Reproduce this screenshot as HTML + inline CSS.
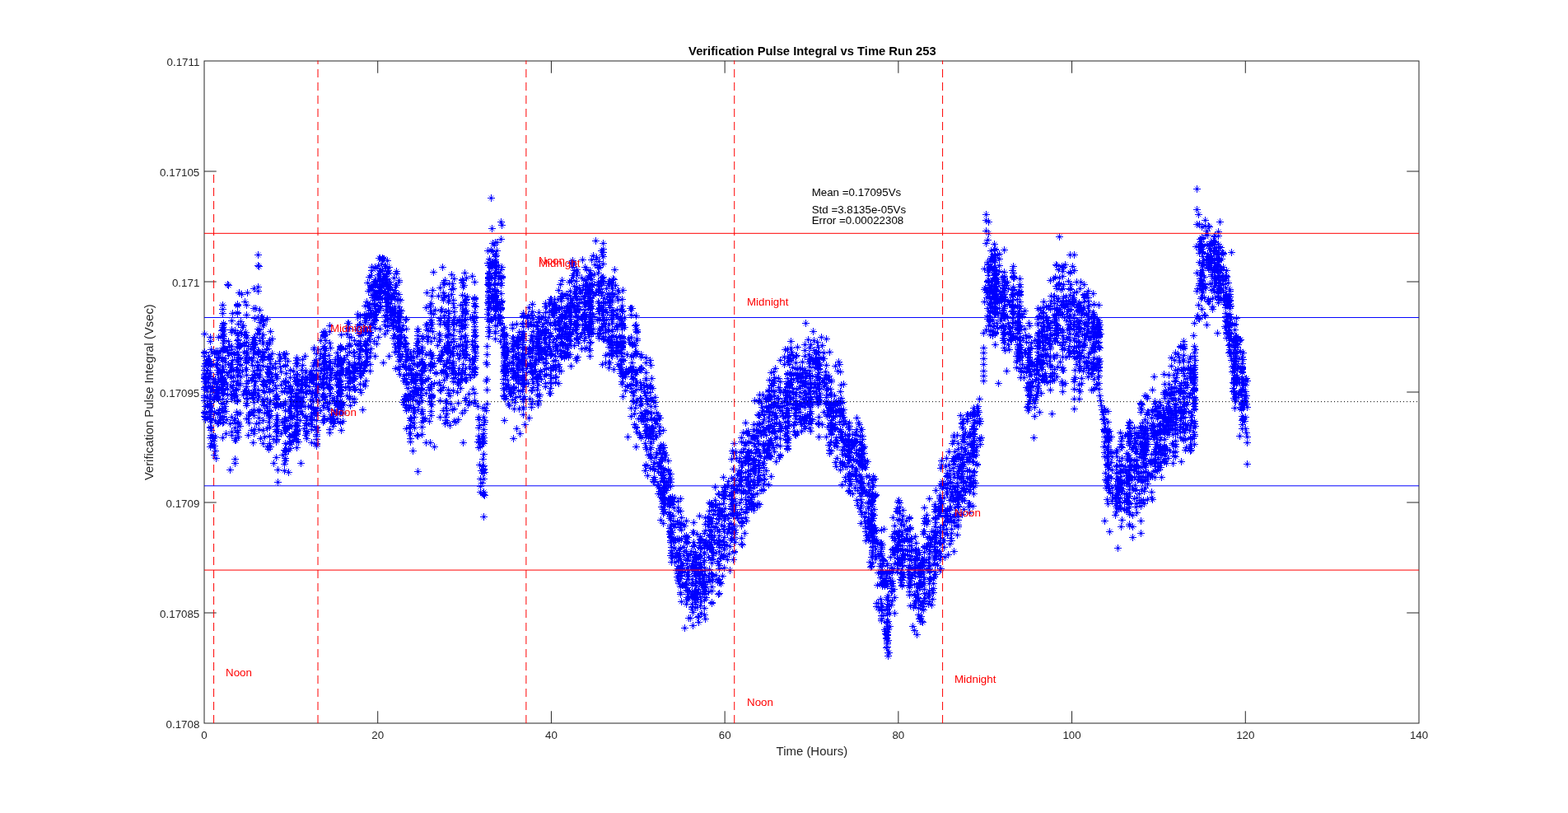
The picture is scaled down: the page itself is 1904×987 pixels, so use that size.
<!DOCTYPE html>
<html lang="en"><head><meta charset="utf-8"><title>Verification Pulse Integral vs Time Run 253</title>
<style>html,body{margin:0;padding:0;background:#fff;overflow:hidden}svg{display:block}text{font-family:"Liberation Sans",Arial,Helvetica,sans-serif}</style></head><body>
<svg width="1904" height="987" viewBox="0 0 1904 987" role="img" aria-label="Verification Pulse Integral vs Time Run 253">
<rect x="0" y="0" width="1904" height="987" fill="#fff"/>
<g fill="none" stroke="#262626" stroke-width="1">
<rect x="248.0" y="74.0" width="1475.0" height="804.0"/>
<path d="M458.71 878.0v-14.75M458.71 74.0v14.75M669.43 878.0v-14.75M669.43 74.0v14.75M880.14 878.0v-14.75M880.14 74.0v14.75M1090.86 878.0v-14.75M1090.86 74.0v14.75M1301.57 878.0v-14.75M1301.57 74.0v14.75M1512.29 878.0v-14.75M1512.29 74.0v14.75M248.0 208.0h14.75M1723.0 208.0h-14.75M248.0 342.0h14.75M1723.0 342.0h-14.75M248.0 476.0h14.75M1723.0 476.0h-14.75M248.0 610.0h14.75M1723.0 610.0h-14.75M248.0 744.0h14.75M1723.0 744.0h-14.75"/>
</g>
<marker id="m" markerUnits="userSpaceOnUse" markerWidth="12" markerHeight="12" viewBox="-6 -6 12 12" refX="0" refY="0" overflow="visible"><path d="M-4 .5H5M.5-4V5" stroke="#00f" stroke-width="1" fill="none" shape-rendering="crispEdges"/><path d="M-2.3-2.3L3.3 3.3M-2.3 3.3L3.3-2.3" stroke="#00f" stroke-width=".85" fill="none"/></marker>
<path d="M259.59 878.0V212" stroke="#f00" stroke-width="1" fill="none" stroke-dasharray="10 6"/>
<polyline points="248,405 248,427 248,428 248,432 248,444 248,444 248,449 248,454 248,456 248,458 248,459 248,463 248,470 248,472 248,480 248,482 248,486 248,486 248,500 248,501 248,501 248,505 249,441 249,463 249,493 249,506 249,509 250,437 250,441 250,453 250,458 250,469 251,440 251,450 251,474 251,481 251,483 251,492 251,506 252,436 252,449 252,459 252,492 253,432 253,464 253,468 254,438 254,456 254,457 254,490 254,494 254,508 255,409 255,414 255,438 255,441 255,442 255,443 255,444 255,452 255,469 255,470 255,479 255,481 255,484 255,489 255,492 255,495 255,499 255,500 255,503 255,505 255,507 255,509 255,518 255,519 255,531 255,542 256,424 256,441 256,472 256,495 256,512 256,522 256,528 256,538 257,427 257,540 258,460 258,464 258,474 258,528 259,485 259,532 259,535 259,541 260,429 260,464 260,481 260,484 260,500 260,541 260,552 261,460 261,510 261,530 261,547 262,426 262,443 262,466 262,477 262,556 263,443 263,477 263,481 263,482 263,483 264,426 264,427 264,428 264,429 264,434 264,437 264,442 264,442 264,449 264,454 264,464 264,469 264,470 264,470 264,473 264,480 264,501 264,502 264,514 265,409 265,433 265,449 265,460 265,472 265,476 265,485 265,500 265,513 266,497 266,510 267,451 267,452 267,506 268,434 268,456 269,401 269,450 269,476 270,370 270,370 270,375 270,380 270,395 270,395 270,397 270,400 270,407 270,408 270,410 270,422 270,425 270,426 270,435 270,437 270,444 270,446 270,448 270,448 270,451 270,458 270,459 270,460 270,461 270,462 270,462 270,463 270,464 270,466 270,467 270,469 270,471 270,473 270,474 270,478 270,484 270,489 270,490 270,495 270,498 270,500 270,505 270,506 270,509 270,513 270,531 271,392 271,393 271,400 271,405 271,408 271,416 271,424 271,460 271,477 271,512 272,400 272,413 272,423 272,464 273,424 273,435 273,439 273,493 274,499 274,526 275,424 275,452 275,466 275,487 275,509 276,345 276,425 276,455 276,472 276,479 277,346 277,414 277,431 277,442 278,420 279,451 279,514 279,570 280,442 280,446 280,468 280,479 281,389 281,400 281,403 281,420 281,424 281,428 281,429 281,442 281,446 281,449 281,450 281,457 281,458 281,478 281,484 281,506 281,524 281,528 282,380 282,437 282,470 283,457 283,463 283,474 284,430 284,480 284,510 285,401 285,481 285,486 285,508 285,513 285,519 285,534 285,557 285,562 286,449 286,479 286,532 286,534 287,448 287,467 287,472 287,473 287,486 287,500 288,369 288,370 288,371 288,379 288,380 288,404 288,405 288,413 288,422 288,427 288,427 288,434 288,434 288,436 288,439 288,439 288,448 288,449 288,455 288,457 288,462 288,485 288,487 288,503 288,522 288,525 288,525 289,393 289,407 289,412 289,417 289,431 289,436 289,465 289,512 289,514 289,530 290,355 290,421 290,434 290,442 290,452 291,418 291,420 291,465 291,467 291,501 291,517 292,390 292,403 292,435 292,443 292,457 293,357 293,405 294,397 294,450 295,395 295,479 296,406 296,416 296,419 296,427 296,475 297,366 298,403 298,435 298,448 298,473 299,370 299,382 299,407 299,410 299,410 299,415 299,415 299,427 299,429 299,433 299,437 299,439 299,440 299,448 299,455 299,465 299,469 299,474 299,479 299,483 299,489 299,492 299,508 300,355 300,429 300,478 300,484 301,420 301,462 301,508 301,528 302,435 302,476 302,503 302,513 303,501 304,423 305,437 305,461 305,478 305,500 305,522 306,417 306,443 306,458 306,480 307,412 307,418 307,423 307,434 307,459 307,477 307,482 307,537 308,350 308,374 308,374 308,409 308,415 308,418 308,427 308,429 308,450 308,455 308,462 308,473 308,477 308,483 308,488 308,497 308,500 308,504 308,526 309,386 309,410 309,421 309,454 309,468 309,521 310,374 310,417 310,463 310,476 311,514 312,405 312,439 312,444 312,454 313,309 313,322 313,348 313,353 313,385 313,399 313,426 313,430 313,446 313,473 313,479 313,485 314,323 314,404 314,426 314,428 314,443 314,449 314,454 314,458 314,481 314,497 314,498 314,500 314,507 314,513 314,521 315,376 315,391 315,400 315,413 315,456 316,449 316,532 317,385 317,388 318,385 318,385 318,410 318,427 318,433 318,436 318,485 319,395 319,406 319,415 319,417 319,432 319,433 319,437 319,444 319,462 319,466 319,474 319,487 319,487 319,491 319,510 319,522 319,538 320,388 320,389 320,393 320,428 320,463 320,466 320,467 320,485 321,476 321,492 321,501 321,530 323,424 323,469 324,387 324,417 324,445 324,484 324,493 324,495 324,500 324,520 324,542 325,423 325,434 325,451 325,457 325,461 326,432 326,448 326,452 326,453 326,502 326,512 326,545 327,413 327,415 327,417 327,433 327,436 327,436 327,448 327,452 327,453 327,454 327,461 327,464 327,472 327,475 327,488 327,488 327,490 327,498 327,499 327,504 327,505 327,507 327,507 327,518 327,529 327,529 327,538 328,402 328,435 328,441 328,441 328,462 328,486 328,542 330,411 330,429 330,457 330,461 331,445 331,464 331,474 332,533 332,562 334,441 334,447 334,454 334,468 334,494 335,457 335,471 335,480 335,481 335,483 335,485 335,489 335,490 335,491 335,509 335,514 335,517 335,521 335,524 335,534 335,536 335,555 336,457 336,459 336,480 336,484 336,504 336,514 336,516 336,523 336,529 336,533 337,509 337,521 337,570 337,585 338,493 339,430 339,438 340,434 340,445 340,491 341,451 341,467 341,491 341,492 341,526 342,475 342,512 343,492 343,552 344,430 344,430 344,463 344,491 345,430 345,474 345,509 345,516 345,522 345,546 345,563 345,571 346,435 346,443 346,444 346,462 346,471 346,487 346,489 346,491 346,498 346,507 346,511 346,511 346,518 346,518 346,519 346,522 346,524 346,538 346,547 346,551 346,556 346,559 347,429 347,453 347,463 347,464 347,522 347,544 347,548 348,476 348,510 349,438 349,520 350,469 350,498 350,546 350,573 351,472 351,496 351,499 351,517 351,529 351,537 352,449 352,458 352,468 352,475 352,475 352,485 352,493 352,506 352,506 352,507 352,516 352,530 352,535 352,539 352,539 352,544 353,475 353,482 353,491 353,501 354,475 354,481 354,487 354,491 354,504 354,505 354,508 354,517 354,527 354,528 354,536 355,473 356,450 356,492 356,534 357,458 357,505 357,531 358,463 358,517 358,525 359,441 359,480 359,482 359,491 359,493 359,496 359,513 359,524 359,529 360,434 360,437 360,444 360,455 360,455 360,457 360,461 360,462 360,462 360,466 360,466 360,473 360,473 360,477 360,478 360,481 360,485 360,486 360,488 360,489 360,494 360,496 360,506 360,516 360,517 360,521 360,523 360,523 360,524 360,526 360,527 360,533 360,536 360,543 361,441 361,454 361,461 361,466 361,485 361,485 361,494 361,500 361,502 361,509 361,517 361,522 362,463 362,465 362,477 362,536 364,474 364,482 364,483 364,494 364,510 365,467 365,487 365,492 365,562 366,449 366,463 366,472 366,475 366,487 366,488 366,499 367,436 367,443 367,457 367,460 367,466 367,488 367,503 368,476 368,482 369,520 370,432 370,468 370,493 371,450 371,452 371,457 371,460 371,461 371,464 371,467 371,475 371,505 371,506 371,513 371,516 371,528 372,477 372,510 372,514 372,523 372,524 372,526 372,532 373,458 374,493 375,469 375,474 376,452 377,455 377,458 377,461 377,485 377,493 377,506 377,508 377,510 378,450 378,454 378,460 378,461 378,461 378,461 378,478 378,494 378,502 378,515 378,517 378,521 378,537 379,462 379,475 379,485 379,509 380,444 380,456 380,464 380,487 380,496 381,422 381,424 381,440 381,456 381,460 381,500 382,476 382,501 383,437 383,456 383,458 383,477 383,480 383,480 383,498 384,429 384,441 384,444 384,449 384,456 384,456 384,457 384,458 384,466 384,467 384,469 384,473 384,478 384,480 384,480 384,485 384,501 384,501 384,504 384,510 384,518 384,519 384,522 384,527 384,529 384,533 384,538 384,539 384,541 385,473 385,495 385,522 386,424 386,467 386,467 387,469 387,486 387,486 388,435 388,442 388,457 389,413 389,413 389,429 389,450 389,460 389,498 390,449 391,460 391,466 391,480 392,403 392,432 392,441 392,457 392,463 392,470 392,480 392,492 392,512 393,406 393,407 393,408 393,420 393,423 393,429 393,432 393,432 393,435 393,442 393,448 393,457 393,464 393,465 393,471 393,478 393,481 393,482 393,494 393,505 393,510 394,402 394,406 394,422 394,423 394,439 394,447 394,448 394,453 394,485 394,509 395,406 395,413 395,425 395,438 396,444 396,447 396,459 397,452 397,467 397,488 397,489 398,495 399,431 399,444 399,466 399,469 399,497 400,395 400,402 400,416 400,438 400,446 400,455 400,461 400,470 400,471 400,480 400,489 400,508 400,521 400,525 401,422 401,440 401,447 401,452 401,472 401,477 401,507 401,511 402,458 402,503 402,508 403,449 403,486 403,505 403,509 404,513 404,517 405,483 405,502 405,514 406,441 406,455 406,487 406,498 406,511 407,436 407,489 408,456 408,467 409,428 409,444 409,451 409,454 409,459 409,460 409,481 409,481 409,490 409,492 409,499 409,502 409,508 410,433 410,467 410,475 410,486 410,494 411,435 411,441 411,442 411,444 411,463 411,490 412,454 412,463 412,476 412,477 413,420 413,421 413,423 413,424 413,434 413,437 413,438 413,439 413,441 413,442 413,443 413,452 413,453 413,454 413,455 413,466 413,469 413,469 413,470 413,470 413,473 413,473 413,478 413,478 413,481 413,490 413,494 413,495 413,495 413,495 413,495 413,501 413,512 413,513 414,406 414,422 414,439 414,440 414,449 414,451 414,462 414,474 414,489 414,495 414,497 414,522 415,447 415,488 416,449 416,501 416,511 417,436 417,491 418,436 419,423 419,455 419,470 420,449 421,405 421,431 421,451 421,480 422,392 422,398 422,449 423,392 423,399 423,440 423,446 423,458 423,462 423,465 423,469 424,409 424,417 424,419 424,420 424,427 424,427 424,442 424,452 424,473 424,481 424,484 425,457 425,459 425,462 425,492 426,409 427,444 428,460 428,462 428,484 429,427 429,450 429,453 429,453 429,460 429,470 430,413 430,428 430,432 430,440 430,442 430,446 430,446 430,450 430,451 430,457 430,459 430,460 430,470 430,472 430,472 430,484 430,488 431,443 431,445 431,472 432,447 432,449 433,400 433,418 434,381 434,385 434,396 434,450 435,404 435,417 435,419 435,435 436,394 436,430 436,441 436,446 437,383 437,393 437,407 437,414 437,423 437,424 437,426 437,433 437,447 437,456 437,466 437,466 437,473 438,420 438,442 438,442 438,442 438,453 438,456 438,476 439,406 439,440 440,450 440,497 441,399 441,451 441,466 442,382 442,398 442,444 442,449 443,371 443,389 443,391 443,402 443,403 443,414 443,417 443,425 443,440 443,443 443,444 443,444 443,468 444,381 444,383 444,389 444,401 444,402 444,419 444,427 444,439 444,462 445,366 445,386 445,418 445,424 445,432 445,438 446,343 446,370 446,413 446,427 446,434 447,353 447,372 448,336 448,370 448,384 448,397 448,411 449,351 449,369 449,376 449,380 449,381 449,384 449,403 449,404 449,407 449,414 449,428 449,432 449,442 449,450 450,334 450,346 450,347 450,349 450,377 450,393 450,398 450,423 451,324 451,328 451,348 451,358 451,384 452,349 452,361 452,394 453,352 453,393 454,345 454,357 454,364 454,368 454,389 454,414 455,324 455,325 455,339 455,341 455,342 455,344 455,353 455,355 455,359 455,359 455,369 455,370 455,370 455,372 455,374 455,379 455,381 455,382 455,385 455,388 455,388 455,389 455,398 455,432 456,342 456,345 456,359 456,360 456,377 456,379 456,385 457,360 457,378 457,417 458,341 459,322 459,333 459,363 459,376 459,376 459,409 460,313 460,337 460,339 460,348 460,348 460,354 460,359 460,360 461,313 461,326 461,328 461,331 461,335 461,339 461,340 461,344 461,347 461,347 461,347 461,349 461,352 461,353 461,359 461,362 461,367 461,371 461,374 461,376 461,399 462,329 462,338 462,349 462,349 462,356 462,372 463,320 463,348 464,313 464,314 464,328 464,342 464,362 465,314 465,337 465,440 466,314 466,314 466,333 466,346 466,354 467,323 467,340 467,343 467,355 467,356 467,383 467,390 467,394 467,405 468,323 468,335 468,346 469,338 469,338 469,362 469,367 469,377 469,382 470,316 470,329 470,332 470,339 470,342 470,344 470,347 470,347 470,350 470,355 470,355 470,358 470,361 470,362 470,363 470,366 470,367 470,367 470,371 470,372 470,372 470,375 470,379 470,379 470,385 470,388 470,395 470,396 470,401 471,328 471,351 471,358 471,361 471,366 471,387 472,324 472,331 472,357 472,362 472,432 473,342 473,345 473,359 473,377 473,387 474,348 474,351 474,368 474,377 475,361 475,382 475,383 475,388 475,392 476,360 476,374 476,378 477,359 477,379 477,389 477,394 477,398 477,410 478,337 478,389 478,396 478,407 479,352 479,355 479,356 479,360 479,362 479,372 479,376 479,376 479,378 479,381 479,383 479,407 479,407 479,417 479,427 480,346 480,379 480,391 480,421 480,447 481,329 481,332 481,346 481,346 482,364 482,400 482,416 483,388 483,391 483,410 483,421 483,426 484,340 484,342 484,357 484,363 484,372 484,380 484,384 484,385 484,388 484,391 484,395 484,395 484,397 484,398 484,399 484,402 484,408 484,411 484,417 484,430 484,433 484,438 484,445 484,448 485,376 485,380 485,380 485,388 485,415 485,415 485,423 485,454 486,364 486,384 486,406 486,416 486,433 486,436 487,377 487,401 487,416 488,400 488,430 489,395 489,442 489,488 490,409 490,444 490,456 490,462 490,485 491,410 491,418 491,420 491,421 491,459 491,481 491,491 492,388 492,416 492,426 492,438 492,446 492,481 492,484 493,387 493,399 493,417 493,432 493,436 493,446 493,454 493,460 493,464 493,466 493,483 493,485 493,486 493,494 493,498 493,520 494,430 494,436 495,424 495,466 495,471 495,479 496,444 496,454 496,492 496,496 497,478 497,518 497,526 498,428 498,433 498,434 498,447 498,449 498,480 498,483 498,492 498,507 498,510 498,510 498,516 498,519 498,526 498,532 498,536 499,432 499,437 499,454 499,463 499,495 499,508 500,448 501,441 501,458 501,460 501,485 501,495 501,547 502,426 502,434 502,456 502,461 502,470 502,474 502,475 502,476 502,478 502,481 502,494 502,500 502,513 502,513 503,441 503,462 503,500 503,506 503,519 504,455 504,460 504,465 505,453 505,461 505,471 505,471 505,473 506,416 506,419 506,426 506,432 506,443 506,479 506,486 506,528 507,399 507,402 507,407 507,411 507,423 507,423 507,427 507,429 507,443 507,454 507,471 507,472 507,474 507,497 507,529 507,572 508,414 508,426 508,479 508,490 509,426 509,441 509,488 510,458 510,479 511,439 511,449 511,465 511,471 511,472 511,480 511,480 512,421 512,423 512,425 512,428 512,436 512,436 512,442 512,455 512,460 512,465 512,473 512,486 512,497 512,499 512,502 512,512 512,518 512,518 512,527 513,408 513,411 513,440 513,450 513,451 513,462 514,443 514,507 514,510 515,442 515,447 516,445 516,462 516,508 517,373 517,394 517,430 517,477 517,537 518,355 518,394 518,400 518,408 518,460 519,414 520,401 520,409 520,459 520,470 521,473 521,487 521,511 522,370 522,372 522,427 522,442 522,443 522,449 522,537 523,368 523,378 523,378 523,380 523,388 523,391 523,393 523,393 523,398 523,414 523,429 523,431 523,442 523,467 523,469 523,471 523,471 523,483 523,487 523,491 523,491 523,499 523,504 524,359 524,393 524,435 524,466 524,479 524,480 524,481 524,482 524,491 525,352 525,402 525,431 525,444 525,445 526,330 526,381 527,410 527,441 527,465 527,542 528,376 529,452 529,453 531,419 532,359 533,405 533,414 533,434 533,434 533,464 534,349 534,386 534,389 534,393 534,407 534,412 534,435 534,437 534,438 534,467 534,473 534,486 534,506 535,377 535,431 535,474 536,375 536,426 536,430 536,452 536,452 537,324 537,428 538,343 538,355 538,361 538,361 538,364 538,449 538,450 538,451 538,470 538,498 539,345 539,358 539,383 539,391 539,421 539,442 539,461 540,340 540,360 540,514 541,378 541,394 541,407 541,423 541,444 541,453 541,487 541,495 541,506 541,510 541,510 542,426 542,439 542,457 542,487 542,489 542,498 542,502 543,393 543,398 543,409 543,409 543,409 543,416 543,424 543,427 543,437 543,455 543,513 544,359 544,366 544,377 544,386 544,388 544,391 544,396 544,400 544,416 544,418 544,419 544,425 544,426 544,473 544,477 545,344 545,364 545,380 545,405 545,406 545,421 545,425 545,440 545,446 545,447 546,433 546,480 546,516 547,427 547,429 547,490 548,333 548,351 548,357 548,415 549,344 549,426 549,429 549,441 549,450 549,497 550,350 550,364 550,368 550,388 550,391 550,394 550,394 550,407 550,411 550,421 550,423 550,431 550,439 550,441 550,443 550,447 550,450 550,452 550,452 550,453 550,459 550,459 550,463 550,474 551,338 551,373 551,378 551,400 551,414 551,447 551,496 551,511 552,385 552,458 553,455 553,512 553,512 554,392 554,420 555,429 555,464 555,476 556,420 556,453 556,463 556,466 556,489 556,509 557,388 557,389 557,391 557,435 557,447 557,463 557,464 558,402 558,420 558,431 559,370 559,395 559,411 559,454 559,471 560,394 560,408 560,459 561,339 561,340 561,343 561,358 561,370 561,383 561,389 561,396 561,399 561,418 561,418 561,426 561,449 561,449 561,452 561,460 561,461 561,501 562,348 562,375 562,377 562,425 562,429 562,442 562,537 563,346 563,366 563,394 563,433 564,331 564,359 564,367 564,378 564,378 564,380 564,387 564,397 564,409 564,426 564,454 564,498 565,364 565,370 565,381 565,388 565,394 565,407 565,415 565,421 565,434 565,447 565,461 565,483 565,486 566,337 566,363 566,367 566,377 566,421 566,431 566,461 567,360 567,414 567,430 568,491 569,478 570,437 570,445 570,455 570,488 571,385 571,458 573,335 573,385 573,414 573,418 573,435 573,442 573,448 574,387 574,439 574,472 575,389 575,424 575,437 575,447 575,451 575,455 575,489 576,342 576,361 576,362 576,363 576,368 576,368 576,371 576,379 576,379 576,384 576,385 576,386 576,391 576,391 576,396 576,400 576,400 576,403 576,407 576,408 576,414 576,419 576,422 576,424 576,426 576,435 576,437 576,448 576,452 576,454 576,477 576,486 577,372 577,407 577,420 577,421 577,428 577,432 577,446 577,489 580,493 580,536 581,506 581,509 581,519 581,529 581,543 582,516 582,533 582,537 582,564 583,542 583,581 583,590 583,597 584,571 585,531 585,538 585,586 586,495 586,529 586,535 586,537 586,557 586,566 586,574 586,599 587,506 587,515 587,521 587,526 587,531 587,531 587,535 587,538 587,551 587,565 587,569 587,570 587,581 587,597 587,597 587,600 587,600 587,627 588,495 588,510 588,512 588,573 588,601 590,440 590,462 590,498 591,420 591,430 591,442 591,460 591,473 591,490 592,304 592,319 592,345 592,367 592,375 592,381 592,387 593,322 593,331 593,332 593,336 593,337 593,338 593,340 593,340 593,342 593,344 593,345 593,346 593,353 593,353 593,354 593,358 593,360 593,363 593,363 593,363 593,365 593,368 593,370 593,375 593,381 593,397 593,402 593,408 594,314 594,331 594,336 594,337 594,345 594,370 594,370 594,389 594,390 594,402 595,318 595,346 595,350 596,240 596,303 596,321 596,324 596,325 596,360 596,361 596,366 596,374 596,387 597,277 597,320 597,336 597,360 597,360 597,388 598,295 598,305 598,305 598,318 598,323 598,324 598,353 598,363 599,372 600,297 600,332 600,338 600,351 600,358 600,384 601,294 601,308 601,311 601,315 601,317 601,318 601,319 601,322 601,322 601,323 601,332 601,344 601,345 601,352 601,352 601,354 601,356 601,359 601,359 601,360 601,361 601,363 601,363 601,365 601,365 601,366 601,374 601,375 601,376 601,384 601,387 601,395 601,402 601,404 601,411 602,310 602,324 602,334 602,358 602,368 602,376 603,294 603,304 603,330 603,353 603,363 603,371 603,374 603,395 604,368 604,373 605,322 605,331 605,338 605,382 605,389 606,385 606,389 607,335 607,370 607,376 607,384 607,385 607,385 607,414 608,269 608,290 608,327 608,343 608,346 608,356 608,366 608,366 608,367 608,373 608,374 608,375 608,386 608,392 608,392 608,393 609,273 609,324 609,335 609,336 609,337 609,365 609,401 609,407 611,399 611,408 611,422 611,444 611,451 611,460 611,465 611,471 611,480 612,397 612,405 612,405 612,406 612,407 612,408 612,412 612,416 612,418 612,420 612,421 612,422 612,427 612,428 612,428 612,428 612,430 612,432 612,434 612,434 612,438 612,438 612,440 612,444 612,446 612,448 612,449 612,450 612,453 612,473 612,481 612,510 613,407 613,427 613,428 613,428 613,429 613,430 613,443 613,456 613,481 613,483 613,484 614,431 614,434 614,448 614,450 614,455 614,467 615,407 615,416 615,421 615,434 615,447 615,450 615,469 615,472 616,427 616,443 616,448 616,461 617,426 617,451 617,467 617,490 618,440 618,470 618,492 619,475 619,478 620,472 620,478 621,423 621,447 621,477 622,394 622,398 622,410 622,417 622,434 622,439 622,450 622,450 622,485 623,410 623,423 623,426 623,432 623,441 623,447 623,449 623,451 623,451 623,451 623,457 623,457 623,458 623,469 623,471 623,472 623,476 623,532 624,414 624,419 624,420 624,451 624,453 624,470 624,496 625,488 626,417 626,430 626,434 626,455 626,460 626,482 627,393 627,414 627,415 627,443 627,520 628,409 628,417 628,421 628,436 628,443 628,452 629,410 629,410 629,421 629,428 629,433 629,435 629,439 629,445 629,449 629,457 629,458 629,462 629,465 629,474 630,403 630,412 630,496 631,441 631,448 631,481 631,526 632,412 633,408 633,437 634,393 634,408 634,418 634,422 634,430 634,431 634,431 634,438 634,449 634,457 634,458 634,473 634,475 635,380 635,383 635,384 635,392 635,396 635,402 635,405 635,408 635,408 635,411 635,413 635,415 635,421 635,430 635,431 635,437 635,441 635,442 635,442 635,443 635,447 635,461 635,462 635,462 635,464 635,466 635,467 635,485 635,487 635,494 635,496 635,503 636,433 636,435 636,455 636,460 636,462 636,469 636,481 636,484 637,423 637,424 637,515 639,447 639,452 640,386 640,442 641,382 641,393 641,396 641,429 641,465 642,373 642,422 642,507 643,424 643,426 643,433 643,442 643,484 644,391 644,413 644,440 644,443 645,382 645,407 645,425 645,425 645,444 645,451 645,474 645,490 645,494 646,369 646,369 646,369 646,369 646,378 646,383 646,411 646,411 646,422 646,422 646,423 646,428 646,432 646,434 646,444 646,445 646,445 646,450 646,451 646,460 646,460 646,473 646,487 647,387 647,394 647,395 647,402 647,415 647,417 647,417 647,425 647,425 647,454 647,465 647,470 648,440 649,437 649,450 650,422 650,442 650,450 651,395 651,408 651,411 651,437 651,459 652,396 652,419 652,420 652,457 652,458 652,459 652,463 652,473 652,479 653,390 653,391 653,400 653,405 653,412 653,414 653,417 653,428 653,429 653,430 653,436 653,437 653,457 653,457 653,460 653,467 653,489 653,491 654,379 654,384 654,416 654,419 654,421 654,423 654,428 654,435 654,454 654,456 654,481 654,486 655,387 655,410 655,436 655,479 656,402 656,403 656,425 656,450 656,451 657,386 657,407 657,423 657,424 657,430 657,460 658,396 658,402 658,434 659,384 660,393 660,412 660,440 661,404 661,405 661,415 661,422 661,424 661,448 661,456 661,456 662,368 662,372 662,379 662,388 662,399 662,401 662,410 662,426 662,427 662,430 662,435 662,435 662,440 662,465 662,469 662,469 663,372 663,400 663,403 663,417 663,429 663,441 663,447 663,454 664,391 665,422 666,368 666,385 666,409 666,420 667,370 667,378 667,415 667,422 667,477 668,363 668,392 668,392 668,394 668,404 668,407 668,408 668,424 668,426 668,429 668,431 668,446 668,455 668,464 668,471 668,477 669,363 669,430 669,449 669,459 669,465 670,368 670,376 670,381 670,429 671,374 671,378 671,379 671,415 671,446 672,369 672,369 672,376 672,383 672,412 672,438 672,443 673,363 673,367 673,375 673,377 673,379 673,391 674,374 674,375 674,391 674,395 674,399 674,420 674,432 674,437 674,445 674,448 674,458 674,464 675,372 675,379 675,411 675,418 675,421 675,457 676,374 676,375 676,410 676,423 676,425 677,363 677,389 677,419 677,426 678,352 678,374 678,390 678,400 678,407 678,408 678,442 678,445 678,445 678,465 679,374 679,375 679,386 679,394 679,400 679,407 679,450 680,345 680,398 680,425 680,429 681,365 681,373 681,374 681,384 681,384 681,390 681,408 681,411 681,415 681,433 681,450 682,340 682,356 682,359 682,360 682,362 682,381 682,384 682,384 682,399 682,405 682,416 682,418 682,418 682,426 682,432 683,383 683,385 683,401 683,417 683,418 684,397 684,427 685,377 685,384 685,392 685,394 685,409 685,429 685,429 685,434 686,384 686,402 686,419 687,357 687,384 687,394 687,396 687,406 687,431 688,371 688,374 688,378 688,422 688,427 688,430 689,358 689,362 689,372 689,399 689,404 689,411 689,412 689,418 689,422 689,430 690,379 690,408 690,433 691,342 691,342 691,376 691,378 691,404 691,405 691,408 691,413 692,353 692,359 692,368 692,373 692,378 692,379 692,387 692,390 692,392 692,397 692,405 692,414 692,414 692,430 693,319 693,340 693,362 693,364 693,376 693,383 693,392 693,406 693,419 693,444 694,341 694,367 695,316 695,318 695,324 695,334 695,364 695,370 695,402 696,320 696,334 696,371 696,372 697,328 697,347 697,355 697,370 697,392 697,419 698,359 698,393 698,400 699,341 699,341 699,353 699,359 699,379 699,393 699,399 699,411 699,435 700,327 700,330 700,332 700,334 700,348 700,351 700,356 700,360 700,362 700,364 700,371 700,372 700,375 700,376 700,377 700,378 700,383 700,384 700,393 700,394 700,395 700,397 700,404 700,437 701,372 701,388 701,410 701,412 701,433 702,416 703,349 703,367 704,353 704,375 704,408 705,355 705,363 706,337 706,386 706,405 706,423 707,315 707,352 707,383 707,384 707,386 707,387 707,394 708,346 708,384 709,359 709,360 709,368 709,381 709,384 709,403 709,413 710,324 710,339 710,340 710,351 710,360 710,360 710,366 710,368 710,372 710,376 710,381 710,382 710,384 710,384 710,385 710,390 710,395 710,397 710,399 710,399 710,400 710,400 710,410 710,423 711,346 711,368 711,385 711,395 712,327 712,339 712,355 712,422 713,346 713,348 713,351 714,336 714,354 714,356 714,357 714,397 715,334 715,352 715,369 715,391 715,403 715,406 715,406 715,408 715,423 716,328 716,335 716,337 716,344 716,346 716,348 716,351 716,353 716,354 716,356 716,360 716,360 716,362 716,364 716,365 716,366 716,367 716,371 716,372 716,374 716,375 716,375 716,379 716,381 716,384 716,387 716,393 716,394 716,396 716,396 716,398 716,401 716,402 716,402 716,402 716,416 716,425 716,432 717,332 717,361 717,371 717,374 717,385 717,400 717,415 718,315 718,339 718,371 718,371 718,392 718,405 719,346 719,381 719,390 720,310 720,399 720,404 721,333 721,345 721,358 721,384 722,321 723,292 723,355 724,312 724,314 724,354 725,388 726,331 726,342 726,346 726,354 726,366 726,375 727,317 727,322 727,324 727,325 727,346 727,350 727,355 727,368 727,375 727,378 727,380 727,387 727,388 727,399 727,404 727,405 727,408 727,410 728,351 728,374 729,342 729,354 729,401 730,304 730,337 730,341 730,346 730,358 730,371 731,309 731,337 731,355 731,355 731,382 731,382 731,397 731,442 732,295 732,302 732,306 732,311 732,320 732,336 732,342 732,367 732,373 732,375 732,377 732,377 732,389 732,393 732,396 732,404 732,408 732,411 733,341 733,362 733,368 733,376 733,377 733,385 733,412 734,392 735,367 735,378 735,399 735,403 735,431 735,440 736,350 736,388 737,360 737,379 738,344 738,401 738,414 739,341 739,346 739,356 739,357 739,366 739,394 739,409 739,412 739,413 739,414 739,416 739,421 739,429 739,430 739,440 739,446 740,341 740,363 740,370 740,373 740,440 741,364 741,418 742,343 742,382 742,387 742,412 742,428 742,431 743,343 743,348 743,350 743,366 743,376 743,392 743,400 743,402 743,407 743,414 743,416 743,419 743,422 743,425 743,426 743,429 743,432 744,338 744,356 744,357 744,360 744,383 744,387 745,339 745,377 745,408 745,448 746,327 747,346 748,383 748,396 748,409 748,415 748,419 748,429 749,360 749,376 749,381 749,381 749,383 749,394 749,394 749,397 749,397 749,399 749,414 749,416 749,419 749,422 749,425 749,426 749,427 749,432 750,352 750,364 750,418 750,442 750,442 751,354 751,387 752,408 752,444 752,448 753,385 753,453 754,375 754,387 754,419 754,429 754,442 754,446 755,363 755,371 755,378 755,378 755,387 755,389 755,392 755,393 755,394 755,395 755,399 755,408 755,409 755,409 755,410 755,410 755,414 755,414 755,415 755,416 755,419 755,419 755,420 755,421 755,422 755,424 755,424 755,424 755,428 755,432 755,436 755,437 755,438 755,448 755,451 755,453 755,456 755,463 755,466 756,352 756,377 756,417 756,457 756,481 757,415 757,437 757,455 758,385 758,397 758,454 759,453 759,457 759,474 760,448 760,452 760,452 760,453 761,430 761,468 761,469 762,530 763,411 763,450 764,415 765,374 765,447 766,374 766,382 766,409 766,432 766,432 766,448 766,449 766,450 766,451 766,466 766,467 766,471 766,495 766,505 767,374 767,417 767,418 767,440 767,445 767,457 768,418 768,460 768,475 768,476 768,487 769,432 769,448 769,459 769,480 769,486 770,417 770,502 770,515 771,395 771,419 771,428 771,454 771,495 772,383 772,394 772,400 772,426 772,429 772,430 772,449 772,452 772,464 772,468 772,473 772,488 772,518 772,519 772,542 772,542 773,400 773,402 773,403 773,411 773,413 773,452 773,464 773,486 773,524 775,508 776,448 776,526 777,448 777,464 777,483 777,492 777,528 778,430 778,433 778,446 778,449 778,470 778,472 778,484 778,501 778,501 778,501 778,507 778,530 778,531 779,447 779,490 779,511 780,504 781,467 781,505 781,510 782,468 782,475 783,477 783,503 783,538 783,571 784,434 784,440 784,452 784,459 784,461 784,480 784,498 784,499 784,501 784,510 784,515 784,518 784,523 784,526 784,528 784,530 784,543 784,564 784,565 785,469 785,484 785,487 785,522 785,523 785,545 786,470 786,490 786,508 786,577 787,530 787,552 788,519 788,526 789,437 789,467 789,470 789,476 789,527 789,545 789,551 789,568 790,443 790,469 790,483 790,486 790,493 790,500 790,502 790,520 790,520 790,523 790,526 790,529 790,532 790,536 790,538 790,543 790,553 790,556 790,556 791,459 791,508 791,509 791,519 792,471 792,519 792,520 793,486 793,520 793,524 793,533 793,566 793,566 793,582 793,584 794,510 794,561 794,563 794,569 794,570 794,579 794,582 794,585 795,482 795,488 795,493 795,509 796,514 796,528 796,555 797,501 797,508 797,530 797,549 797,551 798,514 798,589 799,504 799,572 799,588 799,599 800,507 800,523 800,544 800,562 800,565 800,591 801,507 801,518 801,526 801,544 801,560 801,565 801,566 801,593 801,596 802,540 802,550 802,574 802,584 802,603 802,631 803,557 803,615 804,555 804,557 804,577 804,580 804,600 804,604 804,605 804,608 805,522 805,540 805,547 805,568 805,569 805,576 805,580 805,583 805,591 805,595 805,596 805,597 805,598 805,603 805,603 805,605 805,606 805,610 805,611 805,618 805,623 805,635 806,543 806,549 806,573 806,583 806,593 806,593 806,595 806,598 806,610 806,618 806,621 807,552 807,557 807,580 807,585 807,592 807,606 807,612 808,552 809,585 809,588 809,595 810,611 811,559 811,570 811,571 811,585 811,590 811,605 812,575 812,606 812,610 812,614 812,622 812,624 812,624 813,581 813,604 813,612 813,629 813,641 813,645 813,648 814,575 814,581 814,585 814,590 814,604 814,606 814,611 814,625 814,627 814,629 814,637 814,639 814,644 814,646 814,648 814,651 814,652 814,656 814,658 814,674 815,607 815,644 815,656 815,664 815,668 815,671 815,682 816,603 816,612 816,646 816,677 817,609 817,626 817,632 817,636 817,637 817,656 818,616 818,653 818,658 819,604 819,639 819,665 819,675 819,682 820,655 821,672 821,676 821,692 822,633 822,654 822,672 822,700 823,608 823,616 823,620 823,635 823,675 823,681 823,687 823,690 823,696 823,704 824,654 824,656 824,667 824,677 824,695 824,706 824,708 825,635 825,640 825,672 825,689 825,691 826,605 826,620 826,665 826,665 826,665 826,679 826,689 826,693 826,695 826,698 826,699 826,702 826,712 826,719 826,721 827,628 827,635 827,637 827,643 827,654 827,683 827,683 827,690 827,730 828,689 828,695 828,710 829,636 829,686 829,710 830,664 830,669 830,674 831,638 831,651 831,694 831,710 831,762 832,709 833,632 833,650 833,651 833,654 833,657 833,669 833,708 833,733 834,658 834,659 834,674 834,679 834,680 834,684 834,689 834,691 834,697 834,697 834,699 834,703 834,713 834,716 834,717 834,725 834,728 835,652 835,677 835,697 835,721 836,674 836,692 836,699 836,703 836,726 836,750 837,717 838,672 838,750 839,669 839,687 839,723 840,686 840,692 840,703 840,707 840,710 840,718 840,721 840,724 840,733 840,737 840,739 841,646 841,646 841,663 841,681 841,681 841,736 841,743 841,759 842,634 842,646 842,658 842,688 843,662 843,691 843,696 843,718 844,670 844,673 844,675 844,676 844,677 844,679 844,682 844,682 844,685 844,686 844,688 844,690 844,693 844,698 844,699 844,708 844,717 844,722 844,722 844,725 844,725 844,726 844,727 844,728 844,731 844,733 844,737 845,705 845,711 846,648 846,678 846,719 846,724 846,737 847,695 847,720 847,725 847,749 848,683 848,690 848,699 848,715 848,748 848,755 849,626 849,658 849,675 849,697 849,705 849,708 850,651 850,654 850,659 850,664 850,665 850,665 850,674 850,674 850,677 850,685 850,685 850,688 850,689 850,702 850,707 850,720 850,724 850,735 851,655 851,666 851,689 851,693 851,693 851,709 851,730 851,744 851,744 852,694 852,711 853,697 853,707 854,682 854,701 854,707 854,709 854,715 854,717 855,647 855,658 855,659 855,662 855,670 855,672 855,680 855,689 855,698 855,707 855,709 855,713 855,720 855,721 855,728 855,738 855,746 855,746 856,628 856,636 856,644 856,658 856,692 856,718 856,751 857,656 857,706 857,712 857,725 858,663 858,664 859,633 859,661 860,627 860,639 860,676 860,699 860,718 861,610 861,620 861,632 861,636 861,649 861,650 861,658 861,666 861,691 861,703 861,703 862,628 862,643 862,664 862,665 862,705 863,611 863,612 863,633 863,658 863,664 863,667 863,696 864,611 864,612 864,615 864,629 864,635 864,635 864,639 864,645 864,652 864,655 864,661 864,667 864,678 864,679 864,679 864,683 864,697 864,705 864,712 864,717 864,731 864,732 865,667 865,674 865,699 865,703 866,619 866,624 866,670 867,650 867,656 868,591 868,607 868,613 868,620 868,639 868,640 869,613 869,671 869,698 870,635 870,659 871,643 871,681 871,706 872,599 872,625 872,625 872,630 872,656 872,658 872,660 872,684 872,704 872,721 873,600 873,612 873,616 873,619 873,620 873,625 873,629 873,645 873,650 873,655 873,664 873,669 873,686 873,690 873,703 873,707 873,720 874,661 874,678 874,706 875,621 875,677 875,708 876,620 876,637 876,673 877,621 877,699 878,579 878,604 878,604 878,611 878,642 878,657 878,675 879,591 879,596 879,597 879,599 879,601 879,602 879,605 879,625 879,626 879,627 879,631 879,639 879,645 879,652 879,658 879,665 879,667 879,674 879,689 880,592 880,594 880,602 880,617 880,629 880,662 881,675 882,661 883,589 883,590 883,647 883,679 884,584 884,629 884,643 885,601 885,639 885,643 885,672 886,624 886,635 886,641 886,663 886,692 887,606 887,655 888,557 888,580 888,592 888,597 888,600 888,612 888,614 888,618 888,623 888,636 888,641 888,646 888,653 889,547 889,606 889,615 889,617 889,643 890,550 890,569 890,598 890,611 890,623 890,626 890,679 891,538 891,580 891,588 891,590 891,597 891,605 891,608 891,623 891,625 891,637 891,639 891,648 891,652 891,654 891,669 891,670 892,583 892,583 892,589 892,618 892,643 892,646 892,658 893,548 893,613 894,556 894,593 895,576 895,594 895,595 895,622 895,628 896,629 897,559 897,571 897,574 897,588 898,556 898,582 898,610 898,624 899,574 899,578 899,582 899,583 900,531 900,536 900,548 900,549 900,561 900,565 900,573 900,582 900,590 900,596 900,598 900,606 900,618 900,629 900,629 900,633 900,634 900,638 900,653 900,660 901,565 901,635 901,661 902,525 902,596 903,545 903,595 904,560 904,647 905,513 905,537 905,538 905,540 905,554 905,554 905,554 905,560 905,573 905,579 905,598 905,606 905,621 905,622 905,628 906,524 906,555 906,586 906,612 906,632 907,526 907,549 907,615 907,618 908,523 908,549 908,558 908,562 908,572 908,581 908,583 908,598 908,603 908,607 909,528 909,536 909,537 909,547 909,548 909,548 909,556 909,557 909,559 909,563 909,578 909,588 909,588 909,591 909,611 909,617 910,553 910,595 911,570 911,570 911,575 911,584 912,549 912,599 912,604 912,606 912,611 912,617 913,603 913,610 913,611 914,557 914,570 914,592 914,612 914,614 915,515 915,521 915,523 915,528 915,529 915,530 915,531 915,532 915,533 915,538 915,558 915,561 915,561 915,564 915,566 915,569 915,582 915,585 915,600 915,613 915,619 916,486 916,541 916,558 916,568 916,575 916,589 917,550 917,566 917,571 918,522 918,546 919,515 919,530 919,545 919,588 919,599 919,615 920,503 920,535 920,565 920,611 921,487 921,504 921,514 921,522 921,525 921,539 921,548 921,553 921,559 921,561 921,571 921,573 921,577 921,577 921,580 921,582 921,583 921,585 921,585 922,479 922,485 922,504 922,515 922,550 922,568 922,612 923,523 923,554 924,489 924,528 924,595 925,494 925,500 926,479 926,498 926,513 926,518 926,540 926,564 926,594 926,595 927,509 927,524 927,527 927,538 927,540 927,546 927,562 927,567 927,576 927,582 927,587 928,503 928,522 928,546 928,556 928,581 929,483 930,487 930,493 930,520 930,521 930,528 930,549 930,571 931,484 931,547 931,555 932,495 932,519 932,541 932,549 933,473 933,475 933,479 933,483 933,484 933,485 933,494 933,495 933,499 933,500 933,507 933,511 933,519 933,519 933,535 933,537 933,539 933,541 933,554 933,588 934,461 934,474 934,481 934,503 934,524 934,538 934,546 934,553 935,482 935,516 935,534 935,554 936,452 936,467 936,482 936,484 936,492 936,534 936,554 936,578 937,468 937,500 937,509 937,517 937,525 937,537 937,540 938,490 938,491 939,451 939,462 939,465 939,474 939,475 939,494 939,520 939,523 939,543 940,458 940,462 940,480 940,488 940,504 940,514 940,524 940,548 941,447 941,501 941,524 941,532 942,492 942,506 942,513 942,513 942,560 943,506 943,530 943,540 944,483 944,489 944,493 945,459 945,470 945,484 946,495 946,513 946,555 947,437 947,463 947,473 947,476 947,493 947,494 947,498 947,515 947,515 947,517 947,522 947,523 947,532 947,541 947,552 947,553 948,517 948,520 949,489 949,498 950,502 950,504 951,476 951,505 952,433 952,442 952,487 952,492 953,424 953,473 953,475 953,476 953,483 953,507 953,512 953,512 953,519 953,528 954,485 954,502 955,479 955,498 955,520 955,526 955,533 955,534 956,424 956,433 956,439 956,453 956,453 956,454 956,459 956,463 956,465 956,465 956,466 956,466 956,469 956,470 956,474 956,475 956,480 956,482 956,489 956,489 956,491 956,495 956,498 956,498 956,501 956,504 956,505 956,506 956,517 956,524 956,530 956,534 956,537 956,541 956,541 956,544 956,545 957,435 957,466 957,511 957,532 958,437 958,442 958,466 958,479 958,516 959,452 959,467 959,485 959,489 960,414 960,422 960,430 960,431 960,438 960,461 960,483 961,427 961,455 961,464 961,495 962,446 962,471 963,434 963,460 963,476 963,477 963,483 963,491 963,516 964,515 964,523 965,490 965,501 965,504 965,527 966,432 966,440 966,447 966,453 966,454 966,479 966,486 966,496 966,508 966,512 966,528 967,431 967,431 967,456 967,472 967,491 967,491 967,495 967,495 967,496 967,497 968,421 968,448 968,462 968,525 969,459 970,490 971,446 971,454 971,455 971,457 971,459 971,463 971,469 971,471 971,476 971,476 971,481 971,489 971,500 971,505 971,509 972,492 972,493 972,513 973,462 973,464 973,515 973,523 974,439 974,447 974,452 974,467 974,507 975,458 975,484 975,510 976,465 976,511 977,418 977,425 977,432 977,449 977,452 977,462 977,466 977,469 977,474 977,474 977,474 977,477 977,479 977,485 977,488 977,489 977,490 977,494 977,505 977,508 977,513 977,517 977,520 978,392 978,456 978,464 979,482 979,508 980,490 980,503 980,506 981,412 981,488 982,430 982,436 982,439 982,453 982,474 982,485 982,491 982,504 982,504 983,422 983,434 983,441 983,441 983,445 983,450 983,455 983,457 983,459 983,465 983,466 983,470 983,474 983,478 983,482 983,482 983,485 983,485 983,485 983,489 983,491 983,494 983,513 983,514 983,514 983,519 984,418 984,464 984,467 984,469 984,471 984,481 984,499 984,502 984,508 984,508 984,523 985,434 985,484 985,511 986,437 986,438 986,456 986,491 986,509 987,402 987,435 987,441 987,488 988,413 988,425 988,475 989,446 989,464 990,428 990,470 991,428 991,434 991,439 991,477 991,482 992,415 992,438 992,440 992,442 992,457 992,461 992,466 992,481 993,421 993,428 993,436 993,443 993,443 993,454 993,454 993,454 993,469 993,487 993,488 993,489 993,491 993,514 994,427 994,440 994,444 994,444 994,447 994,448 994,452 994,452 994,458 994,459 994,467 994,469 994,471 994,471 994,471 994,482 994,484 994,488 994,506 994,513 994,513 994,515 994,530 994,530 995,434 995,442 995,464 995,472 995,477 995,479 996,486 997,409 998,419 998,463 998,515 999,435 1000,428 1000,435 1000,461 1000,469 1000,500 1001,459 1001,467 1002,451 1002,455 1002,490 1003,411 1003,443 1003,459 1003,465 1003,473 1003,482 1003,487 1003,489 1003,530 1004,479 1004,503 1004,505 1005,460 1005,471 1005,488 1005,491 1005,498 1005,518 1006,456 1006,456 1006,494 1006,502 1006,504 1006,540 1007,427 1007,461 1007,495 1007,546 1007,550 1008,472 1008,478 1008,491 1008,496 1008,498 1008,513 1008,516 1008,521 1008,537 1009,461 1009,463 1009,478 1009,480 1009,480 1009,490 1009,505 1009,510 1009,521 1009,522 1009,524 1009,526 1009,527 1009,536 1009,547 1010,513 1010,516 1011,495 1011,497 1011,506 1011,521 1012,488 1012,499 1012,500 1012,506 1012,518 1013,480 1013,490 1013,520 1013,540 1014,444 1014,489 1014,490 1014,491 1014,492 1014,492 1014,498 1014,500 1014,500 1014,505 1014,515 1014,515 1014,519 1014,520 1014,537 1014,561 1015,488 1015,499 1015,531 1015,538 1015,566 1016,534 1016,542 1016,556 1017,450 1017,490 1017,497 1018,439 1018,439 1018,486 1019,442 1019,496 1019,512 1020,451 1020,475 1020,488 1020,501 1020,504 1020,521 1020,523 1020,524 1020,530 1020,561 1020,570 1021,467 1021,483 1021,489 1021,497 1021,527 1022,501 1022,525 1022,532 1022,546 1022,563 1022,588 1023,488 1023,501 1023,506 1023,511 1023,515 1023,532 1023,534 1023,535 1023,551 1023,561 1023,561 1023,561 1023,565 1024,466 1024,497 1024,506 1024,542 1025,537 1025,546 1025,563 1026,511 1026,527 1026,553 1026,566 1026,579 1026,584 1027,514 1027,539 1028,566 1029,529 1029,533 1029,540 1030,519 1030,535 1030,541 1030,547 1030,550 1030,561 1030,576 1030,596 1031,513 1031,517 1031,521 1031,527 1031,534 1031,536 1031,545 1031,548 1031,552 1031,554 1031,555 1031,555 1031,558 1031,559 1031,574 1031,581 1031,582 1031,584 1031,589 1031,595 1032,549 1032,598 1033,537 1033,575 1033,578 1033,587 1034,535 1034,544 1034,565 1035,527 1035,540 1035,567 1035,599 1036,539 1036,557 1037,535 1037,541 1038,533 1038,535 1038,572 1038,577 1038,592 1039,524 1039,536 1039,549 1039,549 1039,559 1039,570 1039,576 1040,507 1040,521 1040,528 1040,535 1040,546 1040,550 1040,570 1040,582 1040,584 1040,607 1041,559 1041,560 1041,595 1041,613 1042,513 1042,552 1043,515 1043,554 1043,576 1044,529 1044,537 1044,562 1044,584 1044,585 1044,617 1045,521 1045,540 1045,546 1045,547 1045,551 1045,554 1045,555 1045,563 1045,564 1045,578 1045,580 1045,582 1045,582 1045,584 1045,585 1045,591 1045,598 1045,599 1045,602 1045,606 1045,613 1045,615 1045,621 1045,635 1046,521 1046,539 1046,545 1046,545 1046,550 1046,555 1046,564 1046,565 1046,566 1046,580 1046,586 1046,587 1046,591 1046,592 1046,610 1046,624 1047,529 1047,533 1047,543 1047,558 1047,568 1047,595 1048,544 1049,542 1049,550 1049,594 1049,627 1050,558 1050,560 1050,563 1050,567 1050,598 1050,633 1051,567 1051,622 1051,639 1051,641 1051,645 1051,656 1052,578 1052,597 1052,597 1052,650 1053,560 1053,631 1053,639 1054,587 1054,609 1054,611 1054,615 1054,617 1054,628 1054,636 1054,649 1054,652 1054,655 1055,578 1055,600 1055,601 1055,602 1055,633 1055,635 1055,641 1056,594 1056,610 1056,656 1056,682 1057,637 1057,688 1058,600 1058,602 1058,609 1058,614 1058,619 1058,623 1058,626 1058,631 1058,643 1058,650 1058,676 1058,687 1059,581 1059,583 1059,585 1059,591 1059,598 1059,607 1059,607 1059,608 1059,612 1059,623 1059,623 1059,624 1059,632 1059,637 1059,637 1059,638 1059,644 1059,646 1059,646 1059,647 1059,655 1059,657 1059,664 1059,664 1059,668 1059,670 1059,670 1059,672 1059,683 1060,578 1060,582 1060,589 1060,603 1060,629 1060,642 1060,642 1060,645 1060,655 1060,659 1060,663 1061,618 1061,625 1061,647 1061,651 1061,656 1062,581 1062,602 1062,640 1062,656 1062,658 1062,675 1063,600 1063,601 1063,643 1063,666 1063,676 1063,678 1064,644 1064,655 1064,732 1064,736 1065,660 1065,710 1066,672 1066,695 1066,732 1067,740 1068,672 1068,675 1068,687 1069,659 1069,669 1069,684 1069,695 1069,701 1069,727 1069,737 1070,643 1070,659 1070,659 1070,664 1070,666 1070,672 1070,674 1070,693 1070,694 1070,697 1070,708 1070,732 1070,741 1070,747 1070,751 1070,751 1070,753 1071,661 1071,678 1071,680 1071,680 1071,687 1071,696 1071,706 1071,709 1071,711 1071,736 1071,740 1072,679 1072,681 1072,707 1072,747 1073,642 1073,680 1073,702 1074,710 1074,711 1074,764 1075,704 1075,766 1075,769 1076,699 1076,709 1076,755 1076,770 1076,774 1076,775 1076,786 1077,684 1077,686 1077,693 1077,694 1077,695 1077,711 1077,711 1077,725 1077,728 1077,736 1077,739 1077,740 1077,744 1077,746 1077,754 1077,756 1077,760 1077,762 1077,767 1077,770 1077,771 1077,777 1077,779 1077,781 1077,785 1078,705 1078,723 1078,733 1078,754 1078,764 1078,777 1078,792 1078,796 1078,796 1079,792 1080,696 1080,701 1080,734 1080,744 1080,760 1081,676 1081,706 1082,689 1082,714 1082,718 1082,734 1083,651 1083,667 1083,695 1083,705 1083,708 1083,711 1083,717 1083,729 1084,628 1084,666 1084,670 1084,690 1084,692 1085,668 1085,670 1085,715 1086,638 1086,645 1086,648 1086,653 1086,656 1086,673 1086,684 1086,725 1086,744 1087,664 1088,647 1089,617 1089,620 1089,621 1089,665 1089,669 1089,678 1089,683 1089,685 1089,694 1090,609 1090,631 1090,645 1090,649 1090,658 1090,661 1090,667 1090,677 1090,684 1090,690 1091,607 1091,607 1091,654 1091,658 1091,662 1091,682 1092,610 1092,615 1092,623 1092,630 1092,644 1092,650 1092,651 1092,677 1093,667 1093,668 1093,696 1093,703 1094,636 1094,677 1094,678 1094,680 1094,694 1094,707 1095,632 1095,632 1095,646 1095,648 1095,656 1095,657 1095,657 1095,662 1095,666 1095,666 1095,668 1095,676 1095,682 1095,686 1095,695 1095,700 1095,704 1095,710 1095,711 1096,619 1096,626 1096,674 1096,687 1096,701 1097,638 1097,655 1097,672 1097,697 1098,655 1098,679 1099,673 1100,632 1100,653 1101,642 1101,643 1101,644 1101,648 1101,667 1102,655 1102,656 1102,697 1103,691 1104,628 1104,629 1104,641 1104,654 1104,654 1104,657 1104,662 1104,668 1104,668 1104,669 1104,674 1104,678 1104,679 1104,686 1104,688 1104,688 1104,689 1104,689 1104,694 1104,697 1104,701 1104,705 1104,707 1104,710 1104,711 1104,713 1104,718 1104,722 1105,640 1105,642 1105,705 1105,735 1106,653 1106,662 1106,669 1106,675 1106,680 1106,702 1107,654 1107,667 1107,699 1108,698 1108,760 1109,737 1110,678 1110,689 1110,690 1110,694 1110,709 1110,721 1110,734 1110,765 1111,651 1111,668 1111,679 1111,683 1111,685 1111,694 1111,699 1111,723 1111,723 1111,729 1111,729 1111,732 1111,734 1112,659 1112,666 1112,678 1112,680 1113,671 1113,717 1113,770 1114,677 1114,688 1114,712 1114,721 1114,725 1115,668 1115,708 1115,726 1115,729 1115,738 1115,746 1116,673 1116,686 1116,700 1116,709 1116,711 1116,713 1116,751 1117,686 1117,687 1117,689 1117,692 1117,695 1117,695 1117,696 1117,697 1117,707 1117,712 1117,734 1117,750 1117,754 1118,693 1118,697 1118,708 1118,748 1119,679 1119,683 1119,712 1119,731 1119,739 1119,754 1120,679 1120,687 1120,755 1121,645 1121,648 1121,680 1121,695 1121,708 1121,729 1121,732 1121,736 1121,740 1122,616 1122,629 1122,635 1122,635 1122,645 1122,663 1122,664 1122,670 1122,679 1122,682 1122,686 1122,701 1122,703 1122,708 1122,715 1122,720 1123,726 1123,726 1124,632 1124,633 1124,663 1125,625 1125,636 1125,662 1125,666 1126,652 1126,690 1126,691 1127,632 1127,660 1127,683 1127,723 1127,733 1128,605 1128,651 1128,667 1128,672 1128,676 1128,678 1128,690 1128,693 1128,693 1128,703 1128,708 1128,717 1128,719 1128,719 1128,721 1128,723 1128,730 1129,654 1129,664 1129,669 1129,686 1129,693 1129,703 1130,658 1130,660 1130,702 1131,645 1131,716 1131,734 1132,653 1132,727 1133,702 1133,708 1133,714 1133,719 1134,663 1134,678 1134,700 1135,612 1135,614 1135,618 1135,621 1135,628 1135,629 1135,639 1135,644 1135,646 1135,646 1135,649 1135,649 1135,652 1135,655 1135,660 1135,664 1135,664 1135,670 1135,674 1135,676 1135,678 1135,684 1135,685 1135,685 1135,694 1136,595 1136,618 1136,630 1136,634 1136,646 1136,650 1136,657 1136,667 1136,674 1136,697 1137,675 1138,646 1138,668 1138,686 1139,618 1140,625 1140,626 1140,659 1141,589 1141,601 1141,603 1141,605 1141,608 1141,615 1141,619 1141,623 1141,640 1141,644 1141,647 1141,658 1141,658 1141,669 1141,672 1141,679 1141,692 1142,568 1142,608 1142,615 1142,618 1142,621 1142,653 1142,660 1142,675 1142,690 1143,559 1143,564 1143,587 1143,611 1144,584 1144,593 1144,611 1145,589 1145,638 1145,642 1145,656 1146,588 1146,604 1146,637 1146,656 1146,664 1147,620 1147,627 1147,647 1147,676 1148,566 1148,587 1148,633 1149,556 1149,578 1149,598 1149,623 1149,625 1149,626 1149,642 1150,574 1150,577 1150,587 1150,592 1150,598 1150,618 1150,619 1150,632 1150,649 1151,579 1151,579 1151,630 1151,673 1152,548 1152,564 1153,571 1153,579 1153,593 1153,607 1153,616 1153,619 1153,626 1153,633 1153,660 1154,585 1154,586 1154,603 1154,616 1154,627 1154,653 1155,598 1155,633 1155,642 1155,647 1155,656 1156,538 1156,598 1157,556 1157,559 1157,568 1157,603 1157,607 1157,608 1158,528 1158,530 1158,535 1158,560 1158,575 1158,579 1158,579 1158,590 1158,591 1158,605 1158,626 1158,627 1158,631 1158,631 1158,669 1159,548 1159,554 1159,557 1159,563 1159,596 1159,616 1159,634 1159,638 1160,556 1160,591 1160,596 1160,605 1160,624 1162,528 1162,554 1162,586 1162,596 1162,603 1162,607 1162,612 1162,649 1163,538 1163,545 1163,554 1163,556 1163,572 1163,575 1163,577 1163,589 1163,597 1163,598 1163,603 1163,609 1163,614 1163,622 1163,624 1163,627 1163,631 1163,637 1163,639 1164,554 1164,566 1164,580 1164,604 1164,615 1165,551 1165,570 1165,600 1165,603 1166,504 1166,558 1166,565 1166,581 1167,543 1167,565 1167,575 1168,513 1168,514 1168,518 1168,563 1168,563 1168,604 1168,607 1168,624 1169,509 1169,509 1169,520 1169,529 1169,533 1169,536 1169,536 1169,552 1169,555 1169,557 1169,561 1169,561 1169,564 1169,566 1169,568 1169,572 1169,578 1169,580 1169,585 1169,585 1169,585 1169,592 1169,593 1169,595 1169,601 1170,531 1170,584 1170,586 1170,618 1171,527 1171,536 1171,544 1171,548 1171,596 1171,607 1172,525 1172,546 1172,586 1172,596 1173,593 1174,503 1174,511 1174,555 1174,571 1174,580 1175,503 1175,508 1175,529 1175,539 1175,560 1176,550 1176,551 1176,611 1176,615 1177,525 1177,530 1177,539 1177,539 1177,554 1177,557 1177,559 1177,571 1177,571 1177,580 1177,586 1177,588 1177,590 1177,594 1177,597 1177,611 1177,622 1178,503 1178,527 1178,581 1178,585 1178,589 1179,540 1179,580 1180,539 1180,577 1181,500 1181,503 1181,505 1181,517 1181,520 1181,535 1181,539 1181,542 1181,543 1181,549 1181,561 1181,585 1181,589 1181,614 1182,495 1182,502 1182,513 1182,521 1182,526 1182,527 1182,530 1182,537 1182,537 1182,537 1182,537 1182,542 1182,546 1182,547 1182,549 1182,551 1182,553 1182,554 1182,554 1182,560 1182,573 1182,577 1182,577 1182,583 1182,591 1182,599 1183,500 1183,505 1183,510 1183,510 1183,520 1183,521 1183,535 1183,572 1184,586 1185,547 1185,552 1186,495 1186,500 1186,503 1186,512 1186,542 1186,563 1186,564 1187,493 1187,498 1188,500 1189,484 1189,508 1189,514 1189,532 1190,511 1190,534 1190,539 1191,531 1194,404 1194,422 1194,428 1194,435 1194,442 1194,450 1194,456 1194,462 1195,326 1195,351 1195,366 1196,349 1197,260 1197,267 1197,280 1197,295 1197,400 1198,352 1198,355 1198,355 1198,361 1199,291 1199,318 1199,320 1199,328 1199,341 1199,342 1199,355 1199,374 1199,383 1199,387 1200,269 1200,283 1200,321 1200,330 1200,334 1200,340 1200,395 1201,324 1201,342 1201,346 1201,350 1201,359 1201,369 1201,384 1201,389 1202,315 1202,317 1202,323 1202,325 1202,326 1202,352 1202,355 1202,362 1202,367 1202,377 1202,378 1202,378 1202,387 1202,390 1202,395 1202,402 1202,406 1203,304 1203,313 1203,341 1203,348 1203,352 1203,368 1203,371 1204,311 1204,317 1204,326 1204,347 1204,362 1204,401 1205,311 1205,340 1205,372 1205,388 1205,407 1206,362 1206,396 1207,296 1207,309 1207,310 1207,318 1207,318 1207,339 1207,347 1207,356 1207,360 1207,379 1207,380 1207,395 1208,302 1208,303 1208,312 1208,316 1208,324 1208,324 1208,327 1208,328 1208,328 1208,329 1208,331 1208,332 1208,333 1208,334 1208,337 1208,338 1208,344 1208,350 1208,351 1208,353 1208,354 1208,356 1208,357 1208,358 1208,361 1208,361 1208,366 1208,367 1208,373 1208,373 1208,374 1208,380 1208,403 1208,404 1208,405 1208,418 1209,338 1209,339 1209,347 1209,352 1209,356 1209,362 1209,367 1209,367 1209,368 1209,378 1209,381 1209,381 1210,348 1210,359 1210,363 1210,392 1211,309 1211,341 1211,379 1211,381 1211,398 1212,343 1212,465 1213,308 1213,314 1213,322 1213,329 1213,365 1213,366 1213,374 1214,354 1214,362 1215,362 1215,387 1215,389 1215,397 1216,357 1216,366 1216,383 1217,336 1217,346 1217,380 1217,395 1218,349 1218,374 1218,377 1218,379 1218,381 1218,383 1218,396 1218,403 1218,410 1218,413 1219,303 1219,330 1219,335 1219,337 1219,337 1219,339 1219,341 1219,350 1219,353 1219,353 1219,355 1219,357 1219,360 1219,360 1219,361 1219,363 1219,364 1219,364 1219,372 1219,372 1219,374 1219,374 1219,381 1219,382 1219,384 1219,399 1219,403 1219,405 1219,406 1219,413 1219,416 1219,422 1220,343 1220,370 1220,386 1220,404 1220,425 1221,396 1222,346 1222,450 1223,342 1223,384 1224,350 1224,366 1224,392 1224,418 1225,369 1225,396 1225,399 1225,424 1226,365 1226,405 1226,406 1226,411 1227,402 1227,412 1228,378 1228,409 1228,413 1229,328 1229,357 1229,358 1229,360 1229,364 1229,377 1229,386 1229,397 1230,323 1230,331 1230,335 1230,336 1230,337 1230,348 1230,351 1230,352 1230,357 1230,358 1230,370 1230,371 1230,372 1230,373 1230,377 1230,380 1230,391 1230,407 1231,337 1231,381 1231,381 1231,408 1232,356 1232,392 1233,409 1233,411 1234,432 1234,439 1234,446 1235,363 1235,371 1235,390 1235,390 1235,391 1235,391 1235,395 1235,399 1235,400 1235,404 1235,410 1235,411 1235,418 1235,427 1235,429 1235,437 1236,380 1236,391 1236,397 1236,398 1236,421 1236,423 1236,432 1237,355 1237,378 1237,384 1237,391 1237,404 1237,412 1237,418 1237,424 1237,429 1238,338 1238,345 1238,348 1238,353 1238,354 1238,357 1238,358 1238,366 1238,371 1238,374 1238,383 1238,383 1238,384 1238,396 1238,399 1238,400 1238,419 1238,419 1238,424 1238,428 1238,432 1238,434 1238,437 1238,447 1239,395 1239,409 1239,413 1239,421 1239,424 1239,458 1240,450 1240,451 1241,384 1241,432 1241,442 1242,381 1242,410 1243,458 1244,377 1244,377 1244,399 1244,427 1244,446 1245,407 1245,427 1246,415 1246,447 1246,452 1246,470 1247,494 1248,428 1248,447 1248,474 1248,493 1248,498 1249,392 1249,408 1249,409 1249,422 1249,425 1249,425 1249,427 1249,430 1249,433 1249,434 1249,437 1249,440 1249,440 1249,445 1249,447 1249,447 1249,450 1249,464 1249,465 1249,470 1249,470 1249,472 1249,479 1249,480 1249,487 1249,490 1249,496 1250,395 1250,440 1250,442 1250,444 1250,456 1250,468 1250,469 1250,487 1251,422 1251,423 1251,451 1251,464 1251,474 1251,482 1251,482 1252,416 1252,440 1252,454 1252,479 1253,439 1253,441 1253,463 1254,469 1254,485 1255,531 1256,413 1256,443 1256,444 1256,448 1256,454 1256,489 1256,494 1256,505 1257,462 1257,485 1258,449 1258,460 1258,480 1259,416 1259,420 1259,420 1259,436 1259,443 1259,450 1259,480 1260,374 1260,387 1260,392 1260,394 1260,405 1260,407 1260,407 1260,414 1260,419 1260,423 1260,427 1260,435 1260,438 1260,439 1260,441 1260,450 1260,468 1260,471 1260,473 1260,475 1260,475 1261,384 1261,403 1261,411 1261,419 1261,431 1261,431 1261,439 1261,455 1261,460 1261,464 1262,383 1262,404 1262,421 1262,440 1262,442 1262,500 1263,376 1263,415 1263,439 1264,403 1264,432 1264,442 1264,445 1264,477 1265,405 1265,415 1265,445 1265,448 1265,456 1266,373 1266,380 1266,386 1266,391 1266,396 1266,399 1266,401 1266,402 1266,402 1266,408 1266,409 1266,413 1266,423 1266,425 1266,430 1266,431 1266,433 1266,437 1266,437 1266,440 1266,457 1266,461 1267,366 1267,379 1267,395 1267,419 1267,423 1267,460 1268,407 1268,456 1268,462 1268,463 1269,413 1269,415 1269,424 1269,431 1269,453 1270,372 1270,384 1270,388 1270,409 1270,433 1270,458 1271,386 1271,389 1271,397 1271,401 1271,409 1271,429 1271,441 1271,464 1272,393 1272,410 1273,372 1273,395 1273,417 1274,397 1274,411 1274,416 1274,438 1275,340 1275,371 1275,375 1275,392 1275,398 1275,405 1275,413 1275,418 1275,421 1275,423 1275,432 1275,443 1275,445 1275,456 1275,463 1275,473 1276,359 1276,365 1276,407 1277,391 1277,445 1277,453 1277,457 1277,502 1278,461 1279,338 1279,360 1279,432 1280,359 1280,368 1280,374 1280,382 1280,382 1280,385 1280,389 1280,401 1280,405 1280,406 1280,411 1280,413 1280,434 1280,448 1280,453 1280,461 1281,336 1281,414 1282,321 1282,347 1282,381 1282,383 1282,387 1282,389 1282,395 1282,401 1282,410 1283,322 1283,350 1283,350 1283,362 1283,373 1283,375 1283,394 1283,395 1283,398 1283,401 1283,404 1283,407 1283,431 1283,457 1284,365 1284,376 1284,395 1284,415 1284,445 1285,327 1285,345 1285,362 1285,382 1285,382 1285,404 1286,287 1286,337 1286,344 1286,345 1286,375 1287,379 1287,400 1287,400 1287,439 1288,351 1288,370 1289,323 1289,382 1289,419 1289,419 1289,463 1290,325 1290,329 1290,335 1290,350 1290,366 1290,370 1290,371 1290,381 1290,400 1290,403 1290,407 1290,416 1290,418 1290,424 1290,433 1290,446 1290,449 1290,465 1290,467 1290,475 1291,324 1291,345 1291,360 1291,366 1291,369 1291,411 1291,449 1292,373 1292,385 1292,423 1293,321 1293,415 1293,465 1294,360 1294,433 1295,368 1295,384 1295,389 1295,411 1296,372 1296,378 1296,378 1296,400 1297,341 1297,365 1297,394 1297,409 1297,425 1298,384 1298,400 1298,420 1298,425 1298,432 1299,309 1299,330 1299,331 1299,350 1299,351 1299,358 1299,368 1299,375 1299,376 1299,382 1299,384 1299,389 1299,398 1299,399 1299,405 1299,413 1299,428 1300,345 1300,393 1301,366 1301,369 1301,369 1302,323 1302,363 1303,361 1303,394 1303,425 1304,309 1304,328 1304,355 1304,369 1304,369 1304,382 1304,386 1304,391 1304,393 1304,396 1304,400 1304,411 1304,413 1304,421 1304,426 1304,429 1304,433 1304,460 1304,463 1304,472 1304,484 1304,496 1305,365 1305,449 1305,458 1306,406 1306,435 1307,342 1307,354 1307,372 1307,389 1307,404 1307,421 1307,442 1308,373 1308,377 1308,433 1309,372 1309,393 1309,399 1309,408 1309,414 1309,415 1309,420 1310,367 1310,370 1310,376 1310,376 1310,378 1310,389 1310,397 1310,398 1310,398 1310,416 1310,420 1310,427 1310,439 1310,449 1310,467 1310,473 1310,484 1311,350 1311,370 1311,392 1311,402 1311,428 1311,431 1311,432 1311,435 1311,444 1311,447 1311,475 1312,342 1312,372 1312,389 1313,376 1313,380 1313,382 1313,459 1313,465 1314,376 1314,406 1314,425 1315,374 1315,450 1316,345 1316,357 1316,358 1316,366 1316,374 1316,380 1316,381 1316,392 1316,399 1316,399 1316,406 1316,416 1316,418 1316,419 1316,421 1316,433 1316,439 1316,447 1317,360 1317,361 1317,412 1318,391 1318,394 1318,407 1318,439 1319,381 1319,444 1320,356 1320,356 1320,396 1320,401 1320,405 1320,441 1321,353 1321,361 1321,365 1321,372 1321,383 1321,387 1321,399 1321,401 1321,401 1321,404 1321,408 1321,409 1321,434 1321,439 1321,440 1321,446 1321,452 1321,457 1321,457 1322,370 1322,377 1322,392 1322,429 1322,447 1322,449 1323,409 1323,412 1324,427 1325,386 1325,422 1325,440 1325,441 1325,448 1325,454 1325,473 1326,396 1326,399 1326,424 1326,453 1327,356 1327,379 1327,391 1327,407 1327,408 1327,418 1327,448 1327,473 1328,369 1328,369 1328,381 1328,384 1328,391 1328,396 1328,399 1328,402 1328,403 1328,405 1328,410 1328,416 1328,422 1328,424 1328,427 1328,434 1328,436 1328,441 1328,442 1328,444 1328,446 1328,460 1329,385 1329,422 1329,424 1329,445 1329,471 1330,399 1330,421 1330,446 1331,396 1331,414 1331,466 1332,387 1332,391 1332,404 1332,436 1332,442 1332,467 1333,397 1333,403 1333,416 1333,449 1333,458 1334,370 1334,389 1334,391 1334,394 1334,396 1334,399 1334,403 1334,403 1334,406 1334,407 1334,408 1334,409 1334,415 1334,421 1334,422 1334,435 1334,438 1334,440 1334,440 1334,442 1334,442 1334,445 1334,446 1334,450 1334,456 1334,465 1334,472 1335,394 1335,400 1335,422 1335,422 1335,438 1335,480 1336,405 1336,486 1337,492 1338,497 1339,503 1339,509 1340,497 1340,499 1340,500 1340,508 1340,521 1340,542 1341,496 1341,509 1341,514 1341,522 1341,523 1341,524 1341,530 1341,536 1341,549 1341,554 1341,632 1342,520 1342,574 1342,582 1343,523 1343,592 1344,530 1344,545 1344,553 1344,563 1344,564 1344,583 1344,585 1344,606 1345,499 1345,512 1345,521 1345,523 1345,524 1345,525 1345,531 1345,532 1345,534 1345,534 1345,535 1345,541 1345,543 1345,545 1345,547 1345,551 1345,553 1345,557 1345,559 1345,559 1345,564 1345,565 1345,567 1345,578 1345,583 1345,587 1345,589 1345,590 1345,590 1345,611 1346,530 1346,533 1346,535 1346,549 1346,567 1346,567 1346,569 1346,578 1346,579 1346,595 1347,523 1347,595 1347,645 1348,550 1348,598 1349,530 1349,561 1349,580 1350,549 1350,554 1350,570 1350,592 1350,598 1350,608 1351,604 1354,589 1354,603 1354,625 1355,548 1355,565 1355,574 1355,592 1355,605 1355,611 1355,614 1355,621 1356,546 1356,548 1356,554 1356,566 1356,581 1356,598 1356,600 1356,601 1356,601 1356,611 1356,616 1357,574 1357,581 1357,584 1357,594 1357,665 1358,582 1358,586 1358,590 1358,598 1358,605 1358,617 1359,559 1359,584 1359,595 1359,596 1359,610 1360,525 1360,572 1360,583 1360,587 1360,591 1360,592 1360,604 1360,609 1360,609 1360,616 1361,535 1361,539 1361,542 1361,564 1361,565 1361,570 1361,570 1361,573 1361,578 1361,582 1361,585 1361,585 1361,586 1361,596 1361,617 1361,639 1362,530 1362,532 1362,543 1362,556 1362,585 1362,593 1362,596 1362,631 1363,570 1365,585 1365,599 1365,609 1365,618 1366,528 1366,566 1366,570 1367,574 1368,550 1368,558 1368,577 1368,583 1368,587 1368,600 1368,604 1368,607 1368,608 1368,617 1368,617 1368,620 1369,527 1369,554 1369,583 1369,604 1370,516 1370,530 1370,552 1370,571 1370,579 1370,581 1370,586 1370,612 1371,512 1371,520 1371,525 1371,526 1371,528 1371,529 1371,535 1371,536 1371,536 1371,538 1371,538 1371,540 1371,558 1371,559 1371,567 1371,569 1371,569 1371,571 1371,577 1371,578 1371,579 1371,580 1371,590 1371,594 1371,598 1371,602 1371,610 1371,611 1371,615 1371,622 1371,624 1371,636 1371,638 1372,513 1372,519 1372,523 1372,538 1372,557 1372,558 1372,558 1372,578 1373,528 1373,532 1373,564 1373,565 1374,545 1374,582 1375,592 1375,625 1375,639 1375,652 1376,542 1376,543 1376,570 1376,570 1377,519 1377,532 1377,538 1377,559 1377,571 1377,579 1377,605 1378,548 1378,589 1378,594 1378,595 1379,525 1379,526 1379,535 1379,537 1379,547 1379,558 1379,559 1379,564 1379,565 1379,566 1379,567 1379,569 1379,611 1379,615 1380,545 1380,550 1380,565 1380,574 1380,604 1380,622 1381,530 1381,582 1382,528 1382,572 1382,581 1383,578 1383,599 1383,610 1384,518 1384,539 1385,489 1385,490 1385,495 1385,500 1385,520 1385,522 1385,525 1385,530 1385,531 1385,540 1385,542 1385,547 1385,551 1385,554 1385,555 1385,566 1385,567 1385,574 1385,578 1385,579 1385,583 1385,607 1385,614 1385,632 1385,647 1386,491 1386,497 1386,539 1386,594 1387,513 1387,517 1387,537 1387,547 1387,585 1388,541 1388,549 1388,561 1388,573 1388,607 1389,523 1389,527 1389,540 1389,556 1389,557 1389,563 1389,596 1389,611 1390,480 1390,509 1390,519 1390,526 1390,527 1390,531 1390,532 1390,532 1390,536 1390,539 1390,544 1390,545 1390,545 1390,549 1390,549 1390,551 1390,552 1390,567 1390,572 1390,573 1390,579 1390,582 1390,584 1390,592 1391,519 1391,536 1391,546 1391,547 1391,562 1391,565 1392,481 1392,542 1393,483 1393,500 1393,502 1393,503 1393,513 1393,522 1393,526 1393,533 1393,578 1393,582 1393,587 1393,606 1394,500 1394,532 1394,539 1394,574 1394,576 1396,559 1396,576 1397,520 1397,563 1397,578 1398,507 1398,529 1398,551 1398,558 1398,560 1398,576 1398,597 1398,604 1399,473 1399,497 1399,500 1399,516 1399,517 1399,578 1399,606 1400,514 1400,522 1400,525 1400,529 1401,457 1401,526 1401,529 1401,533 1401,562 1402,487 1402,490 1402,496 1402,498 1402,499 1402,504 1402,518 1402,526 1402,527 1402,545 1402,548 1402,557 1402,560 1402,560 1402,563 1402,571 1402,572 1402,572 1402,579 1403,493 1403,525 1403,539 1403,545 1403,552 1403,558 1403,566 1404,531 1404,539 1404,549 1405,504 1405,508 1405,524 1405,539 1405,571 1406,495 1406,505 1406,544 1406,551 1406,555 1406,557 1406,565 1407,502 1407,503 1407,504 1407,517 1407,523 1407,527 1407,545 1407,570 1408,488 1408,495 1408,500 1408,500 1408,500 1408,503 1408,515 1408,524 1408,524 1408,524 1408,534 1408,541 1408,544 1408,561 1408,562 1409,492 1409,514 1409,516 1409,521 1409,523 1409,531 1409,542 1409,549 1409,552 1409,567 1410,579 1412,495 1412,505 1412,517 1412,523 1413,454 1413,476 1413,478 1413,498 1413,505 1413,506 1413,507 1413,508 1413,511 1413,516 1413,522 1413,523 1413,524 1413,541 1413,542 1413,546 1413,547 1413,550 1413,551 1413,557 1413,559 1413,560 1414,466 1414,483 1414,503 1414,508 1414,508 1414,521 1414,525 1414,533 1414,543 1414,560 1415,474 1415,518 1415,553 1416,495 1416,497 1416,510 1416,513 1416,543 1416,562 1417,479 1417,509 1417,513 1417,527 1417,545 1418,489 1418,507 1418,515 1418,522 1418,556 1419,455 1419,466 1419,472 1419,477 1419,487 1419,493 1419,497 1419,500 1419,501 1419,512 1419,517 1419,520 1419,522 1419,525 1419,527 1420,547 1421,476 1421,478 1421,480 1421,498 1421,502 1421,509 1421,513 1421,516 1422,434 1422,434 1422,444 1422,470 1422,499 1422,502 1422,506 1423,519 1423,538 1424,479 1424,483 1424,484 1424,501 1424,502 1424,502 1424,509 1424,511 1424,521 1424,527 1424,540 1424,562 1425,455 1425,549 1425,553 1426,437 1426,462 1426,470 1426,471 1426,475 1426,476 1426,495 1426,516 1426,521 1427,428 1427,449 1427,463 1427,463 1427,486 1427,490 1427,491 1427,497 1427,501 1427,504 1427,507 1427,512 1427,515 1427,522 1427,526 1427,535 1427,539 1427,542 1427,548 1427,554 1428,458 1428,458 1428,498 1428,507 1429,453 1429,521 1429,526 1429,526 1430,430 1430,448 1430,474 1431,433 1431,484 1431,497 1432,439 1432,468 1432,476 1432,518 1433,420 1433,421 1433,474 1433,475 1433,476 1433,488 1433,494 1433,498 1433,499 1433,500 1433,501 1433,510 1433,515 1433,524 1433,531 1434,449 1434,465 1434,471 1434,508 1434,560 1435,497 1436,437 1436,501 1436,514 1436,519 1437,414 1437,414 1437,418 1437,420 1437,422 1437,423 1437,431 1437,437 1437,446 1437,448 1437,449 1437,453 1437,464 1437,474 1437,474 1437,476 1437,476 1437,477 1437,481 1437,484 1437,490 1437,493 1437,502 1437,506 1437,507 1437,521 1437,532 1437,533 1437,534 1438,456 1438,490 1438,496 1438,499 1438,525 1439,464 1439,464 1439,467 1439,514 1439,521 1439,533 1439,546 1440,519 1440,543 1441,459 1441,470 1441,481 1441,488 1441,491 1442,447 1442,467 1442,515 1443,439 1443,446 1443,500 1444,453 1444,482 1444,522 1445,433 1445,433 1445,435 1445,446 1445,448 1445,452 1445,456 1445,459 1445,477 1445,478 1445,517 1445,531 1445,532 1445,541 1445,544 1445,547 1446,447 1446,459 1446,500 1446,506 1446,510 1446,539 1446,546 1447,504 1447,513 1448,449 1448,452 1448,458 1448,482 1448,532 1449,407 1449,452 1449,452 1449,464 1449,465 1449,473 1449,490 1449,519 1449,524 1450,392 1450,420 1450,428 1450,432 1450,443 1450,446 1450,448 1450,452 1450,452 1450,454 1450,454 1450,457 1450,458 1450,460 1450,462 1450,467 1450,471 1450,472 1450,472 1450,473 1450,474 1450,482 1450,483 1450,489 1450,490 1450,493 1450,496 1450,497 1450,511 1450,514 1450,527 1450,529 1450,539 1451,424 1451,437 1451,485 1451,517 1452,299 1453,229 1453,254 1453,272 1453,331 1453,353 1453,385 1454,350 1454,383 1455,260 1455,370 1455,386 1456,272 1456,296 1456,303 1456,307 1456,318 1456,344 1456,346 1456,387 1457,290 1457,298 1457,298 1457,299 1457,331 1457,338 1458,293 1458,300 1458,333 1458,340 1458,362 1459,275 1459,288 1459,289 1459,290 1459,296 1459,298 1459,299 1459,302 1459,305 1459,306 1459,320 1459,322 1459,322 1459,328 1459,334 1459,340 1459,341 1459,341 1459,343 1459,346 1459,346 1459,347 1459,350 1459,351 1459,353 1459,360 1459,375 1460,307 1460,311 1460,322 1460,328 1460,346 1460,348 1460,355 1461,316 1461,350 1462,336 1462,361 1462,382 1463,267 1463,274 1463,274 1463,345 1463,383 1464,285 1464,321 1464,349 1465,280 1465,297 1465,394 1466,285 1466,308 1466,314 1466,315 1466,318 1466,324 1466,365 1467,274 1467,311 1467,312 1467,321 1467,326 1467,363 1467,363 1467,366 1468,275 1468,301 1468,324 1468,366 1469,310 1469,316 1469,319 1469,344 1470,293 1470,295 1470,296 1470,298 1470,303 1470,303 1470,314 1470,315 1470,316 1470,322 1471,313 1471,327 1471,333 1471,335 1471,344 1471,352 1472,314 1472,330 1472,362 1472,372 1472,375 1473,293 1473,305 1473,327 1473,351 1474,287 1474,293 1474,294 1474,294 1474,297 1474,301 1474,305 1474,314 1474,318 1474,324 1474,327 1474,328 1474,338 1474,347 1474,353 1474,353 1475,286 1475,294 1475,303 1475,304 1475,320 1475,322 1475,329 1475,338 1475,342 1476,337 1476,344 1476,360 1477,326 1478,308 1478,309 1478,313 1478,320 1478,321 1478,322 1478,329 1478,355 1478,404 1479,281 1479,286 1479,296 1479,300 1479,304 1479,304 1479,309 1479,315 1479,318 1479,323 1479,326 1479,327 1479,328 1479,328 1479,334 1479,336 1479,337 1479,339 1479,343 1479,349 1479,354 1479,361 1479,363 1479,367 1479,367 1480,299 1480,315 1480,316 1480,340 1480,351 1480,355 1480,364 1481,269 1481,331 1481,346 1481,350 1482,300 1482,326 1482,340 1482,352 1482,361 1482,363 1483,314 1483,327 1484,306 1484,334 1484,339 1485,307 1485,308 1485,324 1485,335 1485,335 1485,339 1485,341 1485,345 1485,354 1486,361 1486,365 1487,369 1487,396 1488,334 1488,336 1488,338 1488,340 1488,344 1488,349 1488,359 1488,362 1488,373 1488,380 1488,384 1488,389 1488,398 1489,328 1489,335 1489,336 1489,357 1489,358 1489,359 1489,360 1489,365 1489,370 1489,370 1489,385 1489,390 1489,403 1489,405 1489,410 1490,366 1490,384 1490,404 1491,343 1491,364 1491,391 1491,394 1491,397 1491,405 1491,405 1492,362 1492,369 1492,395 1492,405 1492,419 1492,428 1493,351 1493,353 1493,357 1493,360 1493,364 1493,365 1493,369 1493,372 1493,374 1493,381 1493,384 1493,384 1493,391 1493,394 1493,400 1493,400 1493,405 1493,413 1493,418 1493,419 1493,424 1493,427 1494,371 1494,371 1494,371 1494,387 1494,392 1494,410 1494,432 1495,306 1495,404 1495,411 1495,437 1496,445 1496,451 1497,428 1497,464 1497,471 1497,475 1498,444 1498,450 1498,465 1498,474 1498,483 1499,393 1499,393 1499,394 1499,400 1499,413 1499,414 1499,414 1499,415 1499,418 1499,419 1499,420 1499,422 1499,424 1499,424 1499,427 1499,429 1499,432 1499,435 1499,438 1499,439 1499,441 1499,442 1499,444 1499,446 1499,447 1499,450 1499,455 1499,458 1499,458 1499,459 1499,460 1499,461 1499,461 1499,463 1499,476 1499,478 1499,483 1499,485 1499,495 1500,408 1500,412 1500,416 1500,418 1500,434 1500,481 1500,487 1501,386 1501,408 1501,409 1501,410 1501,458 1501,466 1501,478 1501,482 1502,421 1502,427 1502,448 1502,457 1502,461 1502,464 1503,418 1503,444 1503,478 1503,482 1504,435 1504,476 1505,412 1505,413 1505,464 1505,529 1506,412 1506,426 1506,494 1507,448 1507,460 1507,476 1507,496 1507,497 1508,433 1508,441 1508,441 1508,445 1508,446 1508,447 1508,448 1508,451 1508,452 1508,452 1508,452 1508,459 1508,465 1508,467 1508,472 1508,473 1508,474 1508,475 1508,479 1508,480 1508,488 1508,488 1508,489 1508,490 1508,491 1508,494 1508,505 1508,510 1508,515 1508,520 1509,428 1509,436 1509,461 1509,472 1509,491 1509,508 1509,509 1510,461 1510,461 1510,465 1510,486 1510,486 1510,494 1511,485 1511,485 1511,488 1511,511 1512,460 1512,467 1512,475 1512,483 1512,487 1512,506 1512,520 1513,459 1513,480 1513,490 1513,525 1514,462 1514,494 1514,530 1514,537 1514,563" fill="none" stroke="none" marker-start="url(#m)" marker-mid="url(#m)" marker-end="url(#m)"/>
<g fill="none" stroke-width="1">
<path d="M248.0 487.65H1723.0" stroke="#000" stroke-dasharray="1 3" stroke-dashoffset="0"/>
<path d="M248.0 385.48H1723.0M248.0 589.82H1723.0" stroke="#00f"/>
<path d="M248.0 283.31H1723.0M248.0 692.09H1723.0" stroke="#f00"/>
<path d="M386.02 878.0V73.5" stroke="#f00" stroke-dasharray="10 6"/>
<path d="M638.88 878.0V73.5" stroke="#f00" stroke-dasharray="10 6"/>
<path d="M891.73 878.0V73.5" stroke="#f00" stroke-dasharray="10 6"/>
<path d="M1144.59 878.0V73.5" stroke="#f00" stroke-dasharray="10 6"/>
</g>
<g font-size="13.33px" fill="#262626">
<text x="248.00" y="896.9" text-anchor="middle">0</text>
<text x="458.71" y="896.9" text-anchor="middle">20</text>
<text x="669.43" y="896.9" text-anchor="middle">40</text>
<text x="880.14" y="896.9" text-anchor="middle">60</text>
<text x="1090.86" y="896.9" text-anchor="middle">80</text>
<text x="1301.57" y="896.9" text-anchor="middle">100</text>
<text x="1512.29" y="896.9" text-anchor="middle">120</text>
<text x="1723.00" y="896.9" text-anchor="middle">140</text>
<text x="242.3" y="79.8" text-anchor="end">0.1711</text>
<text x="242.3" y="213.8" text-anchor="end">0.17105</text>
<text x="242.3" y="347.8" text-anchor="end">0.171</text>
<text x="242.3" y="481.8" text-anchor="end">0.17095</text>
<text x="242.3" y="615.8" text-anchor="end">0.1709</text>
<text x="242.3" y="749.8" text-anchor="end">0.17085</text>
<text x="242.3" y="883.8" text-anchor="end">0.1708</text>
</g>
<text x="985.9" y="917" text-anchor="middle" font-size="14.95px" fill="#262626">Time (Hours)</text>
<text transform="translate(186.3 476.2) rotate(-90)" text-anchor="middle" font-size="14.8px" fill="#262626">Verification Pulse Integral (Vsec)</text>
<text x="986.4" y="66.9" text-anchor="middle" font-size="14.75px" font-weight="bold" fill="#000">Verification Pulse Integral vs Time Run 253</text>
<g font-size="13.33px" fill="#000">
<text x="985.7" y="237.7">Mean =0.17095Vs</text>
<text x="985.7" y="258.7">Std =3.8135e-05Vs</text>
<text x="985.7" y="272">Error =0.00022308</text>
</g>
<g font-size="13.33px" fill="#f00">
<text x="274" y="820.9">Noon</text>
<text x="401" y="402.8">Midnight</text>
<text x="401" y="504.7">Noon</text>
<text x="654" y="320.9">Noon</text>
<text x="654" y="324">Midnight</text>
<text x="907" y="370.9">Midnight</text>
<text x="907" y="856.7">Noon</text>
<text x="1159" y="626.8">Noon</text>
<text x="1159" y="829.3">Midnight</text>
</g>
</svg>
</body></html>
